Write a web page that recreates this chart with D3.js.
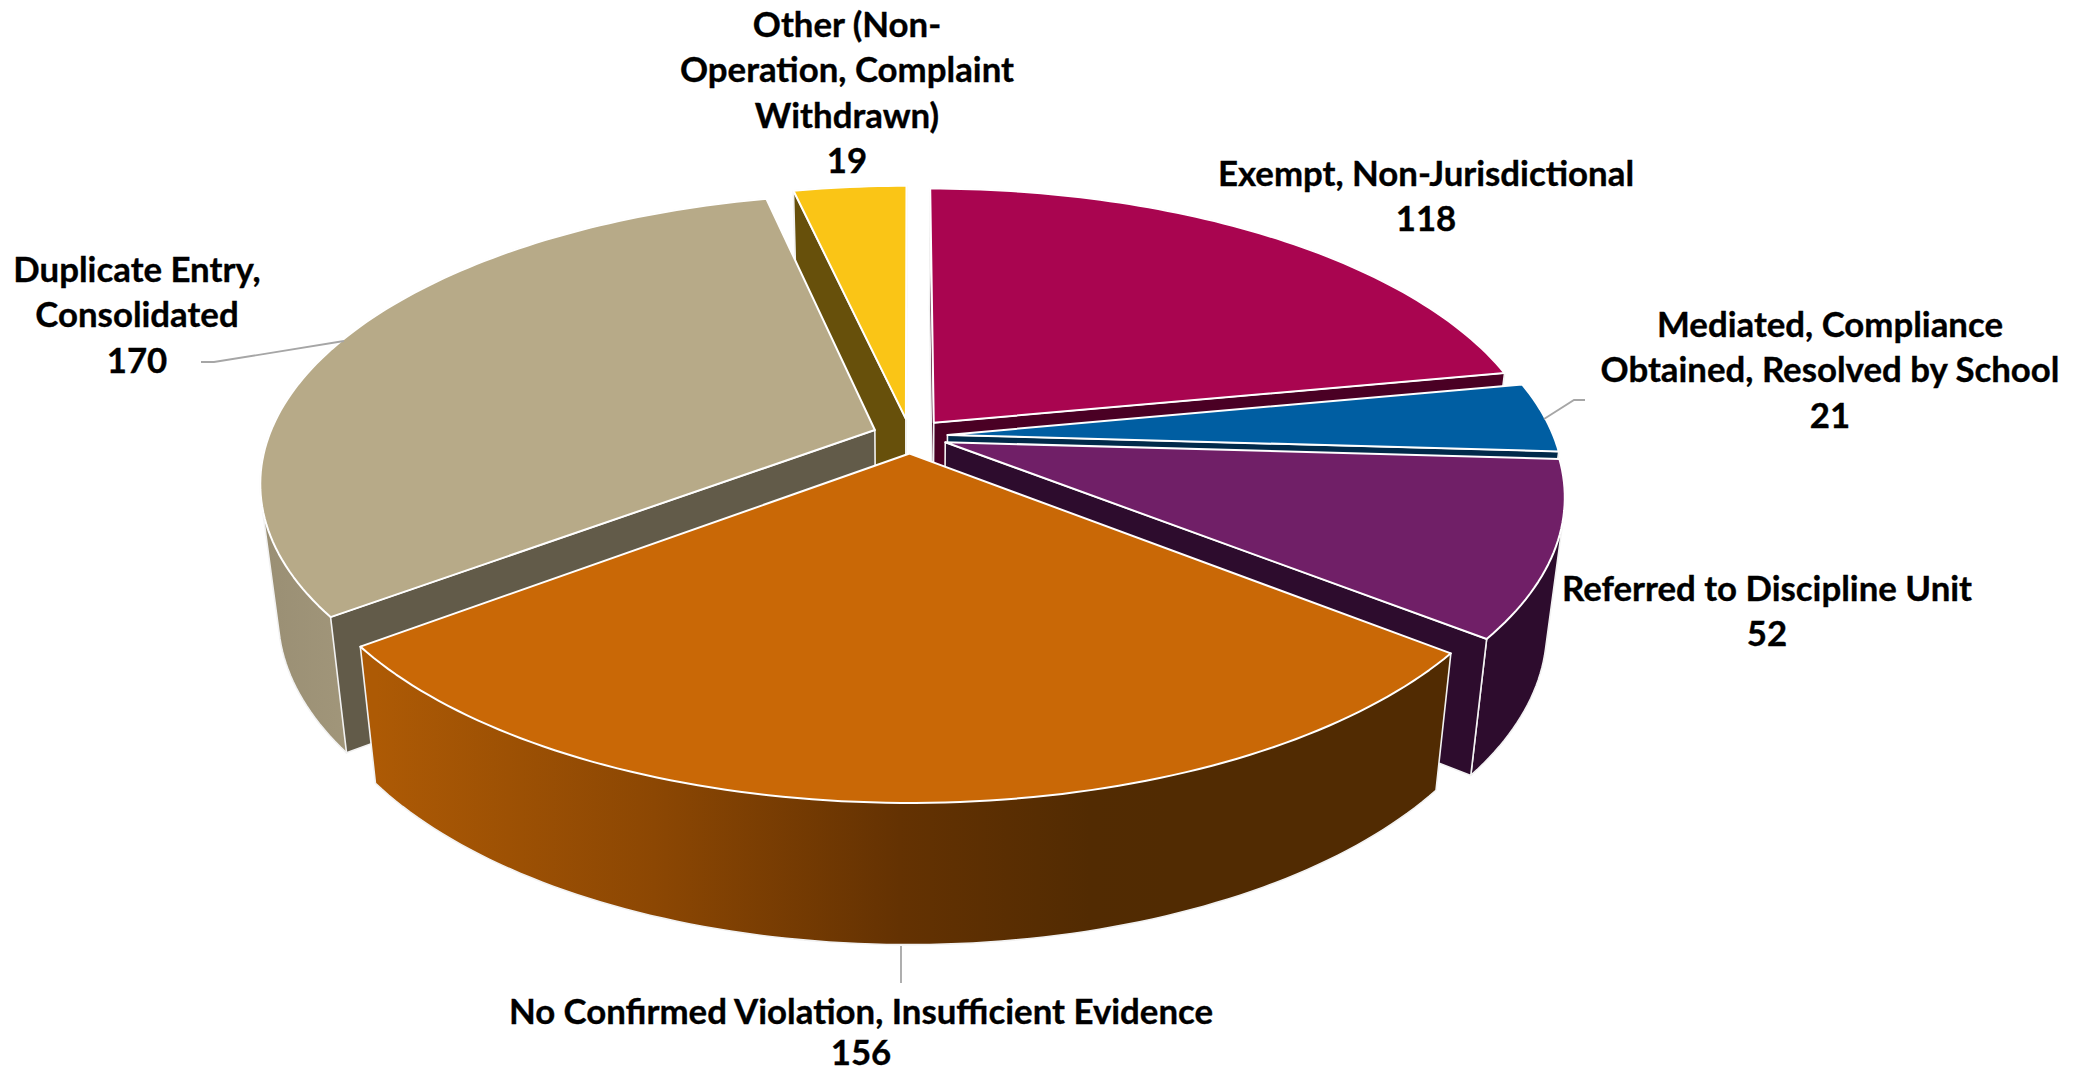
<!DOCTYPE html>
<html>
<head>
<meta charset="utf-8">
<script src="https://cdn.jsdelivr.net/npm/d3@7/dist/d3.min.js"></script>
<style>
html,body{margin:0;padding:0;background:#fff;overflow:hidden}
text{font-family:Lato,"Open Sans",sans-serif;font-weight:700;fill:#000;stroke:#000;stroke-width:0.35px}
</style>
</head>
<body>
<svg id="chart" width="2081" height="1073"></svg>
<script>
const categories = ["Exempt, Non-Jurisdictional","Mediated, Compliance Obtained, Resolved by School","Referred to Discipline Unit","No Confirmed Violation, Insufficient Evidence","Duplicate Entry, Consolidated","Other (Non-Operation, Complaint Withdrawn)"];
const values = [118,21,52,156,170,19];
const labelLines = [
  ["Exempt, Non-Jurisdictional"],
  ["Mediated, Compliance","Obtained, Resolved by School"],
  ["Referred to Discipline Unit"],
  ["No Confirmed Violation, Insufficient Evidence"],
  ["Duplicate Entry,","Consolidated"],
  ["Other (Non-","Operation, Complaint","Withdrawn)"]
];
const topColors = ["#a90550","#005ea2","#701f67","#c96806","#b7aa88","#fac516"];
const wallColors = ["#4a0024","#012a4a","#2d0c2d","#512b02","#625b49","#67500b"];
const paintOrder = [5,0,1,4,2,3];
const labelAnchors = [[1426,186],[1830,337],[1767,601],[861,1024],[137,282],[847,37]];
const leaders = [
  [[201,362],[214,362],[344,341]],
  [[1585,400],[1574,400],[1544,419]],
  [[901,946],[901,983]]
];

const W=2081,H=1073,FS=34.8,LH=45.4;
const cx=910,cy=436,A=606,B=280.2,k=0.178,explode=0.062;
const svg=d3.select("#chart");
const defs=svg.append("defs");

const gOrange=defs.append("linearGradient").attr("id","gOrange").attr("gradientUnits","userSpaceOnUse")
  .attr("x1",376).attr("x2",1170).attr("y1",0).attr("y2",0);
[[0,"#ad5a05"],[0.35,"#8c4703"],[0.66,"#643202"],[0.9,"#522b02"],[1,"#512b02"]].forEach(s=>gOrange.append("stop").attr("offset",s[0]).attr("stop-color",s[1]));
const gTan=defs.append("linearGradient").attr("id","gTan").attr("gradientUnits","userSpaceOnUse")
  .attr("x1",265).attr("x2",350).attr("y1",0).attr("y2",0);
[[0,"#9a8f74"],[1,"#a1967a"]].forEach(s=>gTan.append("stop").attr("offset",s[0]).attr("stop-color",s[1]));
const sideFill=[wallColors[0],wallColors[1],wallColors[2],"url(#gOrange)","url(#gTan)",wallColors[5]];

function project(X,Y){const w=1-k*Y;return [cx+A*X/w,cy+B*Y/w];}
function drop(p){return [cx+(p[0]-cx)*0.9725,p[1]+136.5+0.032*(p[1]-640)];}
function sideOf(p,q,r){return Math.sign((q[0]-p[0])*(r[1]-p[1])-(q[1]-p[1])*(r[0]-p[0]));}
const line=d3.line();

const arcs=d3.pie().sort(null).value(d=>d).startAngle(0).endAngle(2*Math.PI)(values);
const pieG=svg.append("g");

paintOrder.forEach(i=>{
  const a=arcs[i],mid=(a.startAngle+a.endAngle)/2;
  const ox=explode*Math.sin(mid),oy=-explode*Math.cos(mid);
  const apex=project(ox,oy);
  const steps=Math.max(8,Math.ceil((a.endAngle-a.startAngle)/0.02));
  const rim=d3.range(steps+1).map(j=>{
    const t=a.startAngle+(a.endAngle-a.startAngle)*j/steps;
    return project(ox+Math.sin(t),oy-Math.cos(t));
  });
  const inner=project(ox+0.5*Math.sin(mid),oy-0.5*Math.cos(mid));
  const g=pieG.append("g").attr("class","slice").attr("data-category",categories[i]);
  const stroke="#f2f2f2";
  // outer side: the silhouette of the rim band (tangent lines included)
  const hull=d3.polygonHull(rim.concat(rim.map(drop)));
  g.append("path").attr("d",line(hull)+"Z")
    .attr("fill",sideFill[i]).attr("stroke",stroke).attr("stroke-width",1.6).attr("stroke-linejoin","round");
  // cut faces: only those that face the viewer
  [rim[0],rim[steps]].forEach(r=>{
    const m=drop([(apex[0]+r[0])/2,(apex[1]+r[1])/2]);
    if(sideOf(apex,r,m)===sideOf(apex,r,inner)) return;
    g.append("path").attr("d",line([apex,r,drop(r),drop(apex)])+"Z")
      .attr("fill",wallColors[i]).attr("stroke",stroke).attr("stroke-width",1.6).attr("stroke-linejoin","round");
  });
  g.append("path").attr("d",line([apex].concat(rim))+"Z")
    .attr("fill",topColors[i]).attr("stroke","#ffffff").attr("stroke-width",2).attr("stroke-linejoin","round");
});

svg.append("g").selectAll("path").data(leaders).join("path")
  .attr("d",d=>line(d)).attr("fill","none").attr("stroke","#a6a6a6").attr("stroke-width",1.8);

const lab=svg.append("g");
categories.forEach((c,i)=>{
  const lines=labelLines[i].concat([String(values[i])]);
  const t=lab.append("text").attr("text-anchor","middle").attr("font-size",FS);
  lines.forEach((s,j)=>t.append("tspan").attr("x",labelAnchors[i][0])
    .attr("y",Math.min(H-8,labelAnchors[i][1]+j*LH)).text(s));
});
</script>
</body>
</html>
